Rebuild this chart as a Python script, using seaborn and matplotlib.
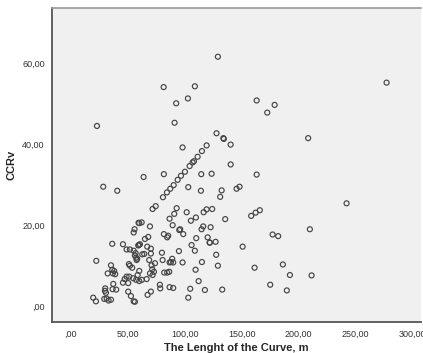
import numpy as np
import pandas as pd
import matplotlib
matplotlib.use("Agg")
import matplotlib.pyplot as plt
import seaborn as sns
from matplotlib.ticker import FuncFormatter

# curve length (m) and CCRv
curve_length = [
    129.2, 81.6, 109.0, 92.6, 102.9, 163.2, 179.0, 172.5, 23.1, 91.2, 128.0,
    277.2, 208.4, 98.2, 64.0, 81.8,
    119.3, 115.2, 111.4, 108.2, 107.0, 104.4, 100.3, 96.8, 93.9, 90.4, 87.4, 84.5, 81.0,
    114.6, 123.7, 103.2, 114.3, 74.6, 71.9, 93.0, 90.9, 86.8, 101.8, 109.9, 105.5,
    116.7, 119.3, 124.2, 62.3,
    134.0, 134.4, 140.4, 140.4, 163.2,
    132.5, 131.2, 145.6, 148.2, 135.6, 158.4, 162.3, 166.0, 177.2, 182.1,
    122.8, 127.2, 122.2, 150.9, 127.7, 129.2, 161.4, 186.2, 192.4, 175.1, 189.7, 133.0,
    242.1, 209.9, 211.4,
    69.6, 89.5, 95.3, 96.1, 114.9, 116.3, 81.8, 84.7, 98.8, 110.2, 120.2, 121.9,
    106.1, 109.0, 95.0, 80.1, 80.7, 89.1, 88.0, 115.2, 98.2, 86.5, 84.7, 109.6,
    112.3, 78.3, 78.6, 86.8, 90.0, 104.9, 117.8, 103.2,
    85.6, 68.1, 65.2, 60.8, 59.3, 67.2, 70.4, 64.6, 62.8, 57.0, 70.4, 57.9, 68.9,
    86.8, 90.0, 82.1, 71.6, 73.1, 71.9, 69.6, 60.2, 58.8, 66.7, 62.5, 60.2,
    70.4, 67.5, 56.4, 74.0, 71.0,
    56.1, 55.3, 59.6, 36.5, 45.9, 49.1, 52.0, 55.3, 59.9, 56.4, 57.5, 58.4, 22.5,
    51.1, 52.0, 54.0, 35.4, 36.5, 38.2, 37.1, 39.1, 32.5, 49.1, 47.4, 51.4, 54.9,
    57.5, 45.9, 50.5, 37.4, 40.0, 36.8, 30.4, 30.1, 31.0, 31.6, 35.4, 33.3, 29.5,
    50.5, 52.9, 55.3, 19.8, 22.2, 28.6, 40.9, 60.2,
]
ccrv = [
    61.6, 54.1, 54.3, 50.1, 51.3, 50.8, 49.7, 47.8, 44.5, 45.3, 42.7,
    55.2, 41.5, 39.2, 31.9, 32.6,
    39.7, 38.3, 36.9, 35.8, 35.5, 34.6, 33.2, 32.2, 31.2, 29.9, 29.0, 28.1, 26.9,
    32.6, 32.7, 29.4, 28.5, 24.7, 24.0, 24.2, 22.8, 21.6, 23.2, 21.9, 21.1,
    23.2, 23.9, 24.0, 20.7,
    41.5, 41.3, 39.9, 35.0, 32.5,
    28.6, 27.0, 29.0, 29.5, 21.5, 22.3, 23.1, 23.7, 17.7, 17.3,
    19.5, 15.9, 15.7, 14.7, 12.7, 10.0, 9.5, 10.3, 7.7, 5.3, 3.9, 4.1,
    25.4, 19.0, 7.6,
    19.7, 20.0, 18.8, 19.0, 19.0, 19.7, 17.8, 17.0, 17.8, 16.8, 17.0, 15.7,
    15.1, 13.7, 13.6, 13.2, 11.4, 11.7, 10.9, 10.9, 10.8, 8.5, 8.3, 9.0,
    6.2, 5.3, 4.4, 4.7, 4.5, 4.3, 4.0, 2.1,
    17.4, 17.1, 16.6, 15.3, 15.0, 14.7, 14.2, 12.9, 12.8, 13.1, 13.0, 11.4, 11.4,
    10.8, 10.8, 8.3, 9.1, 8.5, 7.7, 8.1, 8.7, 7.7, 6.7, 6.5, 6.2,
    3.6, 2.8, 1.1, 10.6, 10.1,
    19.0, 18.2, 20.6, 15.4, 15.3, 14.0, 14.0, 13.7, 15.1, 12.5, 12.0, 11.7, 11.2,
    10.4, 10.0, 9.5, 10.1, 9.0, 8.7, 8.1, 7.9, 8.1, 7.3, 6.7, 7.3, 6.9,
    6.5, 5.8, 5.7, 5.5, 4.1, 4.2, 4.4, 3.8, 3.3, 1.9, 1.6, 1.4, 1.8,
    3.6, 2.5, 1.2, 2.1, 1.2, 29.5, 28.5, 20.5,
]

df = pd.DataFrame({"length": curve_length, "ccrv": ccrv})

sns.set_style("white")
plt.rcParams["font.family"] = ["Liberation Sans", "DejaVu Sans"]

fig = plt.figure(figsize=(4.23, 3.53), dpi=100)
ax = fig.add_axes([0.122, 0.089, 0.873, 0.888])
ax.set_facecolor("#f0f0f0")

sns.scatterplot(data=df, x="length", y="ccrv", ax=ax, marker="o",
                s=13, facecolors="none", edgecolor="#444444", linewidth=0.85)

ax.set_xlim(-16.7, 307.3)
ax.set_ylim(-3.8, 73.6)
ax.set_xticks([0, 50, 100, 150, 200, 250, 300])
ax.set_yticks([0, 20, 40, 60])

def spss_fmt(v, pos):
    s = "%.2f" % v
    s = s.replace(".", ",")
    if s.startswith("0,"):
        s = s[1:]
    return s

ax.xaxis.set_major_formatter(FuncFormatter(spss_fmt))
ax.yaxis.set_major_formatter(FuncFormatter(spss_fmt))
ax.tick_params(axis="both", direction="out", length=4, width=1,
               color="#333333", labelsize=6.5, labelcolor="#333333", pad=2)
ax.tick_params(axis="y", pad=1)

for side in ["left", "bottom"]:
    ax.spines[side].set_color("#555555")
    ax.spines[side].set_linewidth(1.3)
ax.spines["top"].set_color("#999999")
ax.spines["top"].set_linewidth(1.2)
ax.spines["right"].set_visible(False)

ax.set_xlabel("The Lenght of the Curve, m", fontsize=8, fontweight="bold", labelpad=3)
ax.set_ylabel("CCRv", fontsize=8, fontweight="bold", labelpad=4)

fig.savefig("out.png", dpi=100)
